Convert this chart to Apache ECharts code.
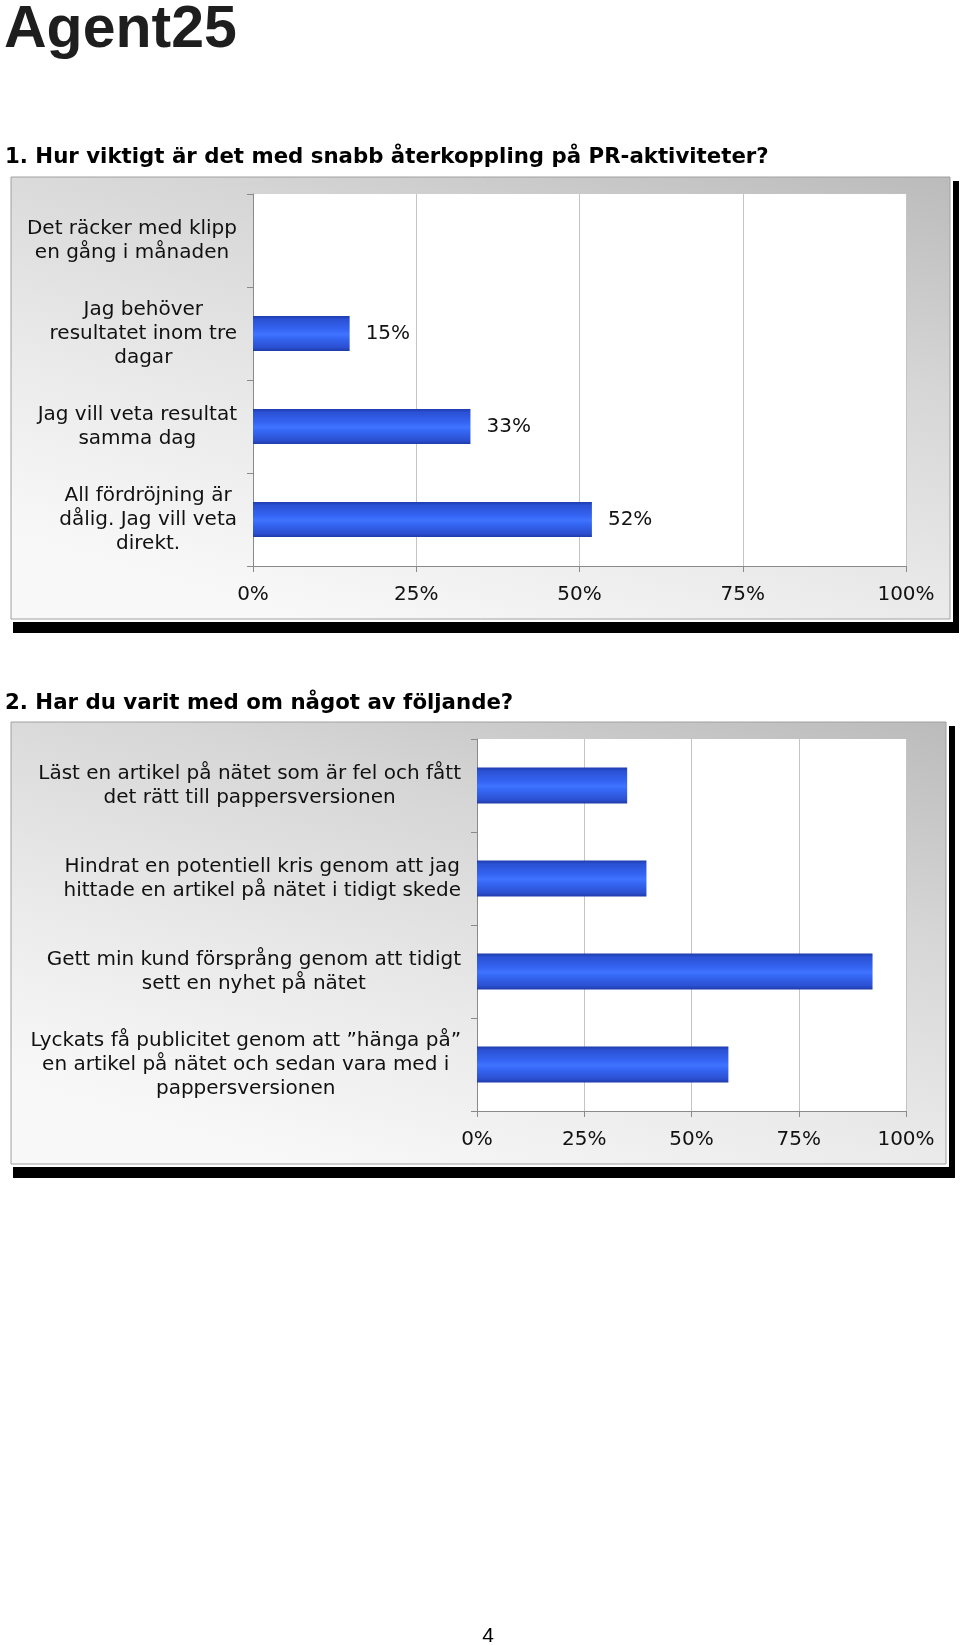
<!DOCTYPE html>
<html><head><meta charset="utf-8">
<script src="https://cdn.jsdelivr.net/npm/echarts@6/dist/echarts.min.js"></script>
<style>html,body{margin:0;padding:0;background:#fff}#c{width:960px;height:1645px}</style>
</head><body><div id="c"></div>
<script>
// ---- data ----
const logoText = 'Agent25';
const title1 = '1. Hur viktigt är det med snabb återkoppling på PR-aktiviteter?';
const title2 = '2. Har du varit med om något av följande?';
const q1Categories = [
  'Det räcker med klipp\nen gång i månaden',
  'Jag behöver\nresultatet inom tre\ndagar',
  'Jag vill veta resultat\nsamma dag',
  'All fördröjning är\ndålig. Jag vill veta\ndirekt.'
];
const q1Values = [0, 14.8, 33.3, 51.9];
const q2Categories = [
  'Läst en artikel på nätet som är fel och fått\ndet rätt till pappersversionen',
  'Hindrat en potentiell kris genom att jag\nhittade en artikel på nätet i tidigt skede',
  'Gett min kund försprång genom att tidigt\nsett en nyhet på nätet',
  'Lyckats få publicitet genom att ”hänga på”\nen artikel på nätet och sedan vara med i\npappersversionen'
];
const q2Values = [35, 39.5, 92.2, 58.6];
const percentTicks = ['0%', '25%', '50%', '75%', '100%'];
const pageNumber = '4';

// ---- styles ----
const FONT = 'DejaVu Sans';
const TXT = '#111';
const chart = echarts.init(document.getElementById('c'), null, {renderer: 'canvas'});

const barFill = () => new echarts.graphic.LinearGradient(0, 0, 0, 1, [
  {offset: 0, color: '#1f3cae'}, {offset: 0.1, color: '#2b51d4'},
  {offset: 0.4, color: '#3565f4'}, {offset: 0.52, color: '#4074ff'},
  {offset: 0.62, color: '#3668f6'}, {offset: 0.9, color: '#2b4fd0'},
  {offset: 1, color: '#1f3ba8'}
]);
// gradient in pixel space: dark at the top-right corner, fading towards bottom-left
function panelFill(x, y, w) {
  const x0 = x + w, y0 = y, L = 600;
  return new echarts.graphic.LinearGradient(x0, y0, x0 - 0.272 * L, y0 + 0.962 * L, [
    {offset: 0, color: '#bbbbbb'}, {offset: 0.35, color: '#d6d6d6'},
    {offset: 0.7, color: '#eaeaea'}, {offset: 1, color: '#f8f8f8'}
  ], true);
}

function centeredLines(v) {
  return v.split('\n').map(s => '{c|' + s + '}').join('\n');
}
function catAxis(gridIndex, cats) {
  return {
    type: 'category', gridIndex, data: cats, inverse: true,
    axisLine: {show: true, lineStyle: {color: '#8a8a8a', width: 1}},
    axisTick: {show: true, length: 6, lineStyle: {color: '#8a8a8a'}},
    axisLabel: {
      interval: 0, margin: 16, formatter: centeredLines,
      rich: {c: {align: 'center', fontSize: 20, lineHeight: 24, fontFamily: FONT, color: TXT}}
    },
    splitLine: {show: false}
  };
}
function valAxis(gridIndex) {
  return {
    type: 'value', gridIndex, min: 0, max: 100, interval: 25,
    axisLine: {show: true, lineStyle: {color: '#8a8a8a', width: 1}},
    axisTick: {show: true, length: 6, lineStyle: {color: '#8a8a8a'}},
    axisLabel: {margin: 19, fontSize: 20, fontFamily: FONT, color: TXT,
      formatter: v => percentTicks[Math.round(v / 25)]},
    splitLine: {show: true, lineStyle: {color: '#c4c4c4', width: 1}}
  };
}
function panel(x, y, w, h) {
  return [
    {type: 'rect', z: -30, shape: {x: x + 2, y: y + 4, width: w + 7, height: h + 10}, style: {fill: '#000'}},
    {type: 'rect', z: -29, shape: {x: x - 2, y: y - 2, width: w + 5, height: h + 5}, style: {fill: '#fff'}},
    {type: 'rect', z: -28, shape: {x: x, y: y, width: w, height: h}, style: {fill: panelFill(x, y, w), stroke: '#a0a0a0', lineWidth: 1}}
  ];
}

const option = {
  animation: false,
  backgroundColor: '#fff',
  grid: [
    {left: 253, top: 194, width: 653, height: 372, show: true, backgroundColor: '#fff', borderWidth: 0, containLabel: false, outerBoundsMode: 'none'},
    {left: 477, top: 739, width: 429, height: 372, show: true, backgroundColor: '#fff', borderWidth: 0, containLabel: false, outerBoundsMode: 'none'}
  ],
  xAxis: [valAxis(0), valAxis(1)],
  yAxis: [catAxis(0, q1Categories), catAxis(1, q2Categories)],
  series: [
    {type: 'bar', xAxisIndex: 0, yAxisIndex: 0, data: q1Values, barWidth: 35,
      itemStyle: {color: barFill()},
      label: {show: true, position: 'right', distance: 16, fontSize: 20, fontFamily: FONT, color: TXT,
        formatter: p => p.value > 0 ? Math.round(p.value) + '%' : ''}},
    {type: 'bar', xAxisIndex: 1, yAxisIndex: 1, data: q2Values, barWidth: 36,
      itemStyle: {color: barFill()}, label: {show: false}}
  ],
  graphic: [
    {type: 'text', left: 4, top: 1, z: 5, style: {text: logoText, font: 'bold 59px "Liberation Sans", Arial, sans-serif', fill: '#1e1e1e'}},
    {type: 'text', x: 5, y: 157, z: 5, style: {text: title1, font: 'bold 21.3px "DejaVu Sans", Verdana, sans-serif', fill: '#000', verticalAlign: 'middle'}},
    {type: 'text', x: 5, y: 703, z: 5, style: {text: title2, font: 'bold 21.3px "DejaVu Sans", Verdana, sans-serif', fill: '#000', verticalAlign: 'middle'}},
    ...panel(11, 177, 939, 442),
    ...panel(11, 722, 935, 442),
    {type: 'text', x: 488, y: 1636, z: 5, style: {text: pageNumber, font: '21px "Liberation Sans", Arial, sans-serif', fill: '#000', align: 'center', verticalAlign: 'middle'}}
  ]
};
chart.setOption(option);
</script>
</body></html>
